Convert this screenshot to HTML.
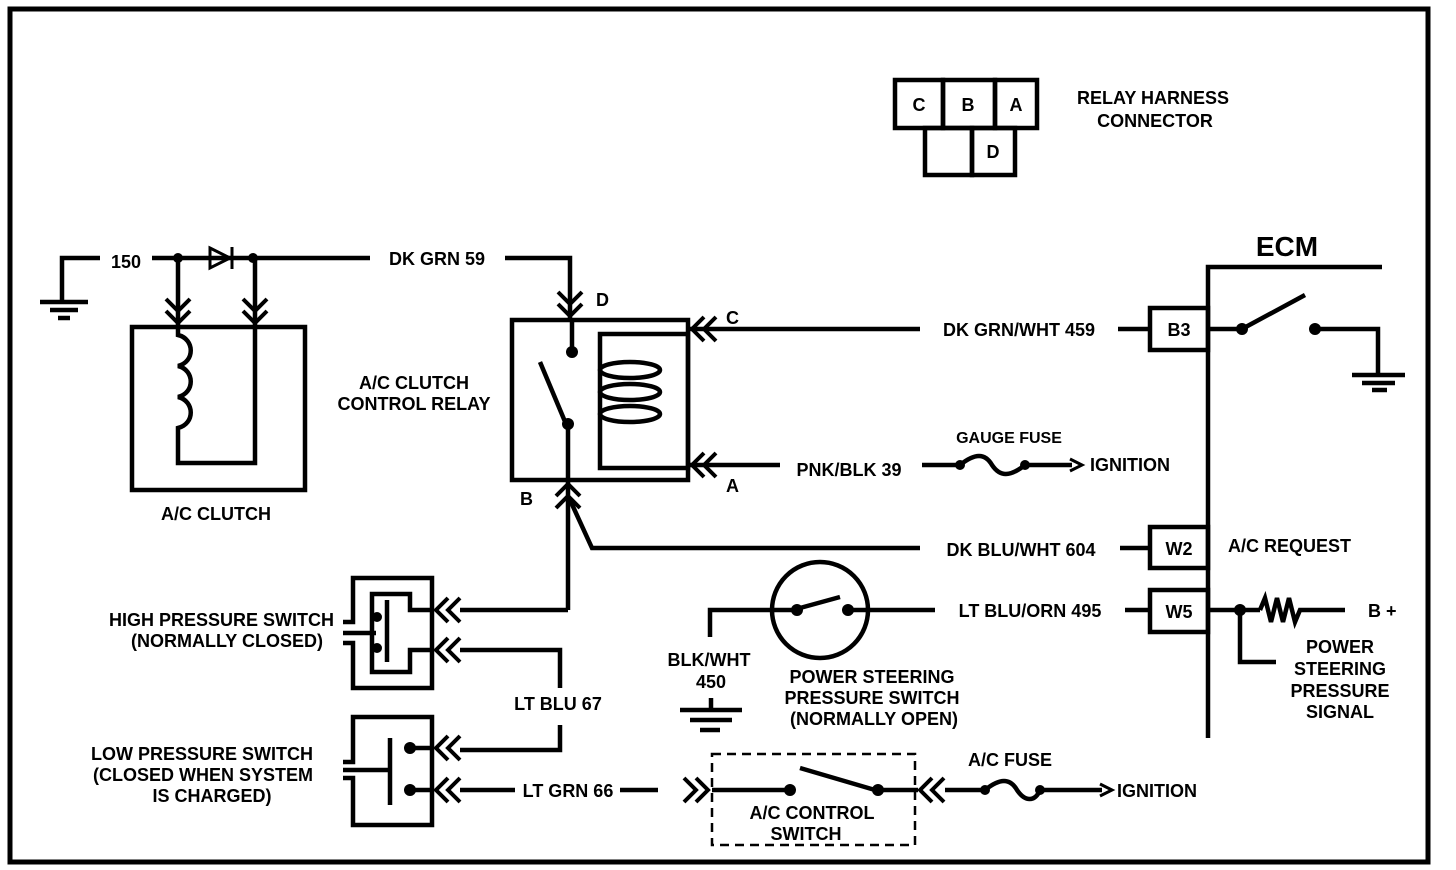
<!DOCTYPE html>
<html><head><meta charset="utf-8"><style>
html,body{margin:0;padding:0;background:#fff}
svg{display:block}
text{font-family:"Liberation Sans",sans-serif;font-weight:bold;fill:#000}
</style></head><body>
<svg width="1456" height="870" viewBox="0 0 1456 870" xmlns="http://www.w3.org/2000/svg">
<defs>
<g id="chL" fill="none" stroke="#000" stroke-width="4">
<polyline points="14,-12 2,0 14,12"/><polyline points="26,-12 14,0 26,12"/>
</g>
</defs>
<rect x="10" y="9" width="1418" height="853" fill="none" stroke="#000" stroke-width="5"/>

<g fill="none" stroke="#000" stroke-width="4.5">
<rect x="895" y="80" width="48" height="48"/><rect x="943" y="80" width="52" height="48"/><rect x="995" y="80" width="42" height="48"/>
<rect x="925" y="128" width="47" height="47"/><rect x="972" y="128" width="43" height="47"/>

<polyline points="100,258 62,258 62,300"/>
<line x1="40" y1="302" x2="88" y2="302"/><line x1="50" y1="310" x2="78" y2="310"/><line x1="58" y1="318" x2="70" y2="318"/>
<line x1="152" y1="258" x2="370" y2="258"/>
<polyline points="505,258 570,258 570,320"/>
<line x1="178" y1="258" x2="178" y2="325"/>
<line x1="255" y1="258" x2="255" y2="325"/>
<rect x="132" y="327" width="173" height="163"/>
<path d="M178,327 v8 c17,4 17,27 0,31 c17,4 17,27 0,31 c17,4 17,27 0,31 v35 h77 v-135"/>

<rect x="512" y="320" width="176" height="160"/>
<rect x="600" y="334" width="88" height="134"/>
<line x1="572" y1="320" x2="572" y2="352"/>
<line x1="540" y1="362" x2="566" y2="424"/>
<line x1="568" y1="424" x2="568" y2="610"/>
<ellipse cx="630" cy="370" rx="30" ry="8"/><ellipse cx="630" cy="392" rx="30" ry="8"/><ellipse cx="630" cy="414" rx="30" ry="8"/>
<polyline points="570,500 592,548 920,548"/>

<line x1="690" y1="329" x2="920" y2="329"/><line x1="1118" y1="329" x2="1150" y2="329"/>
<line x1="690" y1="465" x2="780" y2="465"/>
<line x1="922" y1="465" x2="960" y2="465"/>
<path d="M960,465 c15,-12 25,-12 32,0 c8,12 18,12 33,0"/>
<line x1="1025" y1="465" x2="1072" y2="465"/>
<line x1="1120" y1="548" x2="1150" y2="548"/>

<polyline points="1382,267 1208,267 1208,738"/>
<rect x="1150" y="308" width="58" height="42"/>
<rect x="1150" y="527" width="58" height="41"/>
<rect x="1150" y="590" width="58" height="42"/>
<line x1="1208" y1="329" x2="1242" y2="329"/>
<line x1="1242" y1="329" x2="1305" y2="295"/>
<polyline points="1315,329 1378,329 1378,375"/>
<line x1="1352" y1="375" x2="1405" y2="375"/><line x1="1362" y1="383" x2="1395" y2="383"/><line x1="1372" y1="390" x2="1387" y2="390"/>
<line x1="1208" y1="610" x2="1260" y2="610"/>
<polyline points="1260,610 1265,598 1271,622 1277,598 1283,622 1289,598 1295,622 1300,610 1345,610"/>
<polyline points="1240,610 1240,662 1276,662"/>

<circle cx="820" cy="610" r="48"/>
<polyline points="797,610 710,610 710,637"/>
<line x1="800" y1="608" x2="840" y2="597"/>
<line x1="848" y1="610" x2="935" y2="610"/>
<line x1="1125" y1="610" x2="1150" y2="610"/>
<line x1="680" y1="710" x2="742" y2="710"/><line x1="690" y1="720" x2="732" y2="720"/><line x1="700" y1="730" x2="720" y2="730"/>
<line x1="711" y1="698" x2="711" y2="710"/>

<polyline points="343,622 353,622 353,578 432,578 432,688 353,688 353,643 343,643"/>
<line x1="343" y1="633" x2="376" y2="633"/>
<polyline points="432,610 410,610 410,594 372,594 372,672 410,672 410,650 432,650"/>
<line x1="387" y1="600" x2="387" y2="662"/>
<line x1="460" y1="610" x2="568" y2="610"/>
<polyline points="460,650 560,650 560,688"/>
<polyline points="560,725 560,750 460,750"/>

<polyline points="343,762 353,762 353,717 432,717 432,825 353,825 353,778 343,778"/>
<line x1="343" y1="770" x2="390" y2="770"/>
<line x1="390" y1="738" x2="390" y2="805"/>
<line x1="410" y1="748" x2="432" y2="748"/><line x1="410" y1="790" x2="432" y2="790"/>
<line x1="460" y1="790" x2="515" y2="790"/>
<line x1="620" y1="790" x2="658" y2="790"/>

<rect x="712" y="754" width="203" height="91" stroke-width="2.5" stroke-dasharray="9,6"/>
<line x1="712" y1="790" x2="790" y2="790"/>
<line x1="800" y1="768" x2="875" y2="790"/>
<line x1="878" y1="790" x2="918" y2="790"/>
<line x1="945" y1="790" x2="985" y2="790"/>
<path d="M985,790 c15,-12 25,-12 32,0 c8,12 18,12 23,0"/>
<line x1="1040" y1="790" x2="1102" y2="790"/>
</g>

<use href="#chL" transform="translate(178,325) rotate(-90)"/>
<use href="#chL" transform="translate(255,325) rotate(-90)"/>
<use href="#chL" transform="translate(570,318) rotate(-90)"/>
<use href="#chL" transform="translate(690,329)"/>
<use href="#chL" transform="translate(690,465)"/>
<use href="#chL" transform="translate(568,482) rotate(90)"/>
<use href="#chL" transform="translate(434,610)"/>
<use href="#chL" transform="translate(434,650)"/>
<use href="#chL" transform="translate(434,748)"/>
<use href="#chL" transform="translate(434,790)"/>
<use href="#chL" transform="translate(710,790) rotate(180)"/>
<use href="#chL" transform="translate(918,790)"/>
<g fill="none" stroke="#000" stroke-width="3"><polyline points="1070,459 1082,465 1070,471"/><polyline points="1100,784 1112,790 1100,796"/></g>
<polygon points="210,248 230,258 210,268" fill="none" stroke="#000" stroke-width="3"/>
<line x1="232" y1="247" x2="232" y2="269" stroke="#000" stroke-width="3"/>

<g fill="#000">
<circle cx="178" cy="258" r="5"/><circle cx="253" cy="258" r="5"/>
<circle cx="572" cy="352" r="6"/><circle cx="568" cy="424" r="6"/>
<circle cx="1242" cy="329" r="6"/><circle cx="1315" cy="329" r="6"/><circle cx="1240" cy="610" r="6"/>
<circle cx="797" cy="610" r="6"/><circle cx="848" cy="610" r="6"/>
<circle cx="377" cy="617" r="5"/><circle cx="377" cy="648" r="5"/>
<circle cx="410" cy="748" r="6"/><circle cx="410" cy="790" r="6"/>
<circle cx="790" cy="790" r="6"/><circle cx="878" cy="790" r="6"/>
<circle cx="960" cy="465" r="5"/><circle cx="1025" cy="465" r="5"/>
<circle cx="985" cy="790" r="5"/><circle cx="1040" cy="790" r="5"/>
</g>

<g font-size="18">
<text x="919" y="111" text-anchor="middle">C</text>
<text x="968" y="111" text-anchor="middle">B</text>
<text x="1016" y="111" text-anchor="middle">A</text>
<text x="993" y="158" text-anchor="middle">D</text>
<text x="1153" y="104" text-anchor="middle">RELAY HARNESS</text>
<text x="1155" y="127" text-anchor="middle">CONNECTOR</text>
<text x="1287" y="256" text-anchor="middle" font-size="28">ECM</text>
<text x="1179" y="336" text-anchor="middle">B3</text>
<text x="1179" y="555" text-anchor="middle">W2</text>
<text x="1179" y="618" text-anchor="middle">W5</text>
<text x="1228" y="552">A/C REQUEST</text>
<text x="1368" y="617">B +</text>
<text x="1340" y="653" text-anchor="middle">POWER</text>
<text x="1340" y="675" text-anchor="middle">STEERING</text>
<text x="1340" y="697" text-anchor="middle">PRESSURE</text>
<text x="1340" y="718" text-anchor="middle">SIGNAL</text>
<text x="126" y="268" text-anchor="middle">150</text>
<text x="437" y="265" text-anchor="middle">DK GRN 59</text>
<text x="596" y="306">D</text>
<text x="726" y="324">C</text>
<text x="726" y="492">A</text>
<text x="520" y="505">B</text>
<text x="414" y="389" text-anchor="middle">A/C CLUTCH</text>
<text x="414" y="410" text-anchor="middle">CONTROL RELAY</text>
<text x="216" y="520" text-anchor="middle">A/C CLUTCH</text>
<text x="1019" y="336" text-anchor="middle">DK GRN/WHT 459</text>
<text x="849" y="476" text-anchor="middle">PNK/BLK 39</text>
<text x="1009" y="443" text-anchor="middle" font-size="16">GAUGE FUSE</text>
<text x="1090" y="471">IGNITION</text>
<text x="1021" y="556" text-anchor="middle">DK BLU/WHT 604</text>
<text x="1030" y="617" text-anchor="middle">LT BLU/ORN 495</text>
<text x="709" y="666" text-anchor="middle">BLK/WHT</text>
<text x="711" y="688" text-anchor="middle">450</text>
<text x="872" y="683" text-anchor="middle">POWER STEERING</text>
<text x="872" y="704" text-anchor="middle">PRESSURE SWITCH</text>
<text x="874" y="725" text-anchor="middle">(NORMALLY OPEN)</text>
<text x="334" y="626" text-anchor="end">HIGH PRESSURE SWITCH</text>
<text x="323" y="647" text-anchor="end">(NORMALLY CLOSED)</text>
<text x="558" y="710" text-anchor="middle">LT BLU 67</text>
<text x="202" y="760" text-anchor="middle">LOW PRESSURE SWITCH</text>
<text x="203" y="781" text-anchor="middle">(CLOSED WHEN SYSTEM</text>
<text x="212" y="802" text-anchor="middle">IS CHARGED)</text>
<text x="568" y="797" text-anchor="middle">LT GRN 66</text>
<text x="812" y="819" text-anchor="middle">A/C CONTROL</text>
<text x="806" y="840" text-anchor="middle">SWITCH</text>
<text x="1010" y="766" text-anchor="middle">A/C FUSE</text>
<text x="1117" y="797">IGNITION</text>
</g>
</svg>
</body></html>
